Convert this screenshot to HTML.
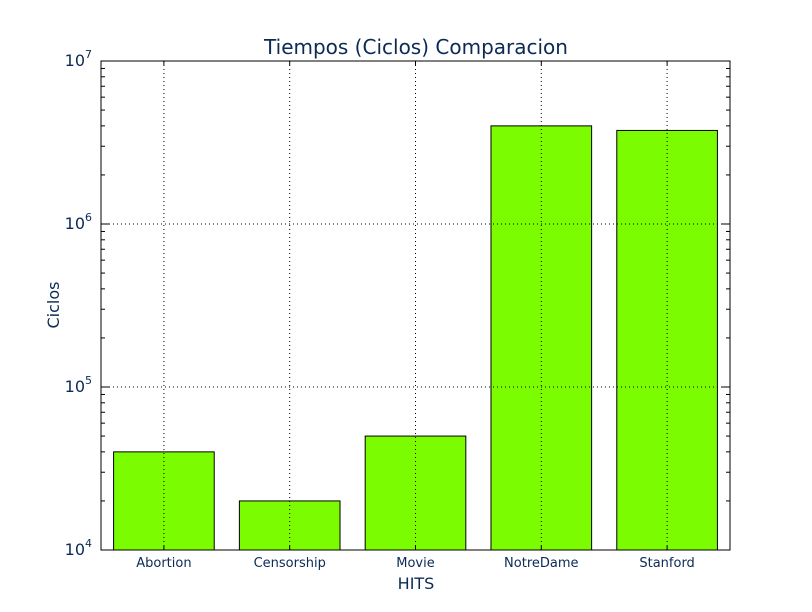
<!DOCTYPE html>
<html><head><meta charset="utf-8"><style>body{margin:0;background:#fff}svg{display:block}</style></head>
<body>
<svg id="c" width="812" height="612" xmlns="http://www.w3.org/2000/svg" font-family="'DejaVu Sans','Liberation Sans',sans-serif"></svg>
<script>
const categories=["Abortion","Censorship","Movie","NotreDame","Stanford"];
const values=[40000,20000,50000,4000000,3750000];
const yTickExp=[4,5,6,7];
const L=101,R=730,T=61,B=550,NS="http://www.w3.org/2000/svg";
const svg=document.getElementById('c');
const yMin=4,yMax=7;
function y(v){return B-(Math.log10(v)-yMin)/(yMax-yMin)*(B-T);}
const slot=(R-L)/categories.length;
function xc(i){return L+slot*(i+0.5);}
function el(t,a,p){const e=document.createElementNS(NS,t);for(const k in a)e.setAttribute(k,a[k]);(p||svg).appendChild(e);return e;}
const title=el('text',{x:416,y:54,'text-anchor':'middle','font-size':20,fill:'#0b2a55'});title.textContent='Tiempos (Ciclos) Comparacion';


categories.forEach((c,i)=>{
 const w=slot*0.8,top=y(values[i]);
 const r=el('rect',{x:xc(i)-w/2,y:top,width:w,height:B-top,fill:'#7cfc00',stroke:'#000','stroke-width':1});
 
 
 const g=el('line',{x1:xc(i),x2:xc(i),y1:T,y2:B,stroke:'#000','stroke-dasharray':'1,3','stroke-width':1});
 
 
 const t=el('text',{x:xc(i),y:567,'text-anchor':'middle','font-size':13,fill:'#0b2a55'});t.textContent=c;
 
 
 el('line',{x1:xc(i),x2:xc(i),y1:B,y2:B-4,stroke:'#000'});
 el('line',{x1:xc(i),x2:xc(i),y1:T,y2:T+4,stroke:'#000'});
});
yTickExp.forEach(e=>{
 const yy=y(Math.pow(10,e));
 if(e>yMin&&e<yMax){const g=el('line',{x1:L,x2:R,y1:yy,y2:yy,stroke:'#000','stroke-dasharray':'1,3'});
 
 }
 el('line',{x1:L,x2:L+8,y1:yy,y2:yy,stroke:'#000'});
 el('line',{x1:R,x2:R-8,y1:yy,y2:yy,stroke:'#000'});
 const t=el('text',{x:92,y:yy+5,'text-anchor':'end','font-size':16,fill:'#0b2a55'});
 t.innerHTML='10<tspan dy="-8" font-size="11">'+e+'</tspan>';
 
 
 if(e<yMax)for(let m=2;m<10;m++){const ym=y(m*Math.pow(10,e));
  el('line',{x1:L,x2:L+4,y1:ym,y2:ym,stroke:'#000'});el('line',{x1:R,x2:R-4,y1:ym,y2:ym,stroke:'#000'});}
});
const f=el('rect',{x:L,y:T,width:R-L,height:B-T,fill:'none',stroke:'#000'});


const xl=el('text',{x:416,y:589,'text-anchor':'middle','font-size':16,fill:'#0b2a55'});xl.textContent='HITS';


const yl=el('text',{x:59,y:305,'text-anchor':'middle','font-size':16,fill:'#0b2a55',transform:'rotate(-90 59 305)'});yl.textContent='Ciclos';


</script>
</body></html>
